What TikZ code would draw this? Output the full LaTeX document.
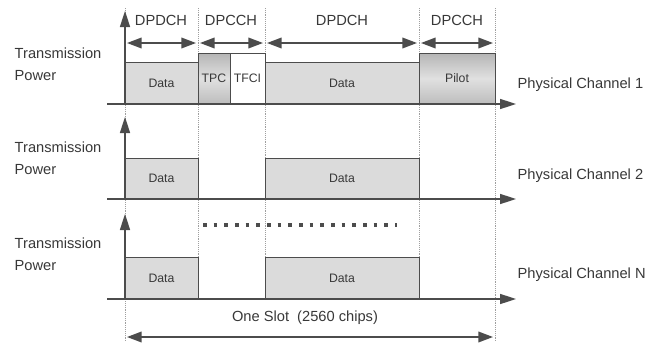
\documentclass[tikz,border=0pt]{standalone}
\usepackage{fontspec}
\setmainfont{Liberation Sans}
\usetikzlibrary{arrows.meta, positioning}
\definecolor{ink}{gray}{0.3}
\definecolor{datagray}{gray}{0.86}

\begin{document}
\begin{tikzpicture}[
  x=0.75pt, y=-0.75pt,
  every node/.style = {font=\fontsize{11}{16.5}\selectfont, text=black!78},
  sz/.style 2 args = {minimum width=#1*0.75pt, minimum height=#2*0.75pt},
  slot/.style = {draw=ink, thin, inner sep=0, outer sep=0, anchor=north west, font=\fontsize{9.2}{11}\selectfont},
  dat/.style = {slot, fill=datagray},
  ctl/.style = {slot, top color=gray!58, bottom color=gray!52, middle color=gray!24},
  grid/.style = {gray!75, densely dotted, thin},
  axis/.style = {ink, line width=1.2pt, -{Triangle[length=12pt, width=7.5pt]}},
  span/.style = {ink, line width=1.2pt, shorten <=1.5pt, shorten >=1.5pt,
    {Triangle[length=11pt, width=8pt]}-{Triangle[length=11pt, width=8pt]}},
  ylbl/.style = {align=left, anchor=west},
  chlbl/.style = {anchor=west}
]
  \useasboundingbox (0,0) rectangle (651,343);

  \draw[grid] (125,8) -- (125,341);
  \draw[grid] (198,8) -- (198,300);
  \draw[grid] (265,8) -- (265,300);
  \draw[grid] (419,8) -- (419,300);
  \draw[grid] (495,8) -- (495,341);

  \node (hd1) at (161,20) {DPDCH};
  \node (hc1) at (231,20) {DPCCH};
  \node (hd2) at (342,20) {DPDCH};
  \node (hc2) at (457,20) {DPCCH};

  \coordinate (h0) at (125,43);
  \coordinate (h1) at (198,43);
  \coordinate (h2) at (265,43);
  \coordinate (h3) at (419,43);
  \coordinate (h4) at (495,43);
  \draw[span] (h0) -- (h1);
  \draw[span] (h1) -- (h2);
  \draw[span] (h2) -- (h3);
  \draw[span] (h3) -- (h4);

  \node[dat, sz={73}{42}] (d1a) at (125,62) {Data};
  \node[ctl, sz={32}{51}] (tpc) at (198,53) {TPC};
  \node[slot, fill=white, sz={35}{51}] (tfci) at (230,53) {TFCI};
  \node[dat, sz={154}{42}] (d1b) at (265,62) {Data};
  \node[ctl, sz={76}{51}] (pilot) at (419,53) {Pilot};

  \node[dat, sz={73}{41}] (d2a) at (125,158) {Data};
  \node[dat, sz={154}{41}] (d2b) at (265,158) {Data};

  \node[dat, sz={73}{42}] (dna) at (125,257) {Data};
  \node[dat, sz={154}{42}] (dnb) at (265,257) {Data};

  \coordinate (o1) at (107,104);
  \coordinate (e1) at (516,104);
  \coordinate (b1) at (125,104);
  \coordinate (t1) at (125,11);
  \draw[axis] (o1) -- (e1);
  \draw[axis] (b1) -- (t1);

  \coordinate (o2) at (107,199);
  \coordinate (e2) at (516,199);
  \coordinate (b2) at (125,199);
  \coordinate (t2) at (125,117);
  \draw[axis] (o2) -- (e2);
  \draw[axis] (b2) -- (t2);

  \coordinate (on) at (107,299);
  \coordinate (en) at (516,299);
  \coordinate (bn) at (125,299);
  \coordinate (tn) at (125,214);
  \draw[axis] (on) -- (en);
  \draw[axis] (bn) -- (tn);

  \draw[ink, line width=2.7pt, dash pattern=on 2.7pt off 5.3pt] (203,225) -- (397,225);

  \node[ylbl] (tp1) at (10,64) {Transmission\\Power};
  \node[ylbl] (tp2) at (10,158) {Transmission\\Power};
  \node[ylbl] (tpn) at (10,254) {Transmission\\Power};

  \node[chlbl] (pc1) at (513,85) {Physical Channel 1};
  \node[chlbl] (pc2) at (513,176) {Physical Channel 2};
  \node[chlbl] (pcn) at (513,275) {Physical Channel N};

  \coordinate (s0) at (125,337);
  \coordinate (s1) at (495,337);
  \draw[span] (s0) -- (s1);
  \node (slotlbl) at (305,318) {One Slot\ \ (2560 chips)};
\end{tikzpicture}
\end{document}
